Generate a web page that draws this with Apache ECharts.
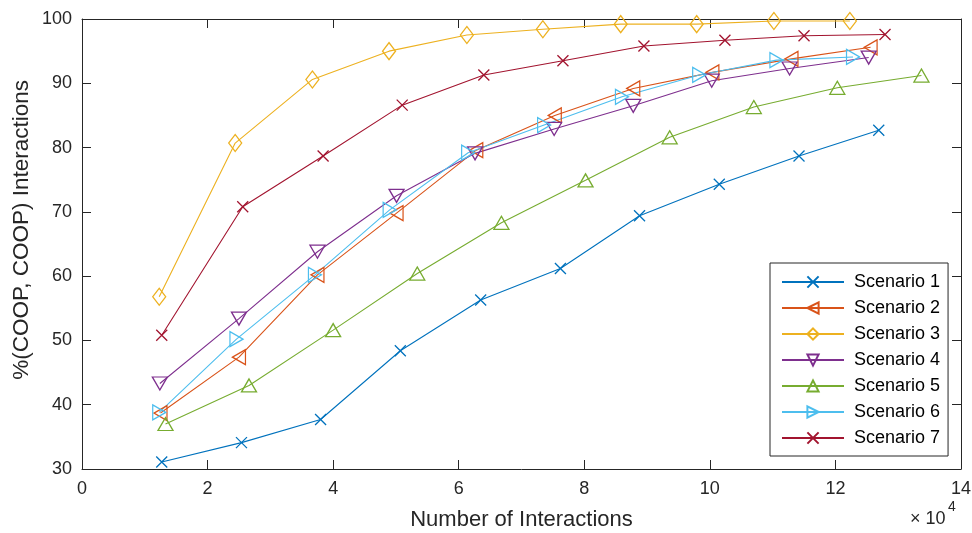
<!DOCTYPE html>
<html>
<head>
<meta charset="utf-8">
<script src="https://cdn.jsdelivr.net/npm/echarts@6/dist/echarts.min.js"></script>
<style>
  html, body { margin: 0; padding: 0; background: #ffffff; }
  #chart { width: 972px; height: 533px; }
</style>
</head>
<body>
<div id="chart"></div>
<script>
// Number of interactions (raw counts) and share of (COOP, COOP) interactions in %
const seriesNames = ['Scenario 1', 'Scenario 2', 'Scenario 3', 'Scenario 4', 'Scenario 5', 'Scenario 6', 'Scenario 7'];

const x1 = [12700, 25400, 38000, 50700, 63500, 76200, 88800, 101500, 114200, 126900];
const y1 = [31.1, 34.1, 37.7, 48.4, 56.3, 61.2, 69.4, 74.3, 78.7, 82.7];

const x2 = [12500, 25000, 37500, 50100, 62800, 75300, 87800, 100400, 113000, 125600];
const y2 = [38.7, 47.4, 60.2, 69.8, 79.6, 85.0, 89.2, 91.7, 93.8, 95.6];

const x3 = [12300, 24400, 36700, 48900, 61300, 73400, 85800, 97900, 110200, 122300];
const y3 = [56.8, 80.7, 90.6, 95.0, 97.5, 98.4, 99.2, 99.2, 99.7, 99.7];

const x4 = [12400, 25000, 37500, 50100, 62600, 75200, 87800, 100300, 112700, 125300];
const y4 = [43.3, 53.4, 63.8, 72.5, 79.1, 82.9, 86.5, 90.4, 92.3, 94.0];

const x5 = [13300, 26600, 40000, 53400, 66800, 80200, 93600, 107000, 120300, 133700];
const y5 = [37.0, 43.0, 51.6, 60.4, 68.3, 74.9, 81.6, 86.3, 89.3, 91.2];

const x6 = [12300, 24600, 37100, 49000, 61500, 73600, 86000, 98300, 110600, 122800];
const y6 = [38.8, 50.2, 60.2, 70.3, 79.2, 83.5, 87.9, 91.3, 93.6, 94.1];

const x7 = [12700, 25600, 38400, 51000, 64000, 76600, 89500, 102400, 115000, 127900];
const y7 = [50.8, 70.8, 78.7, 86.6, 91.3, 93.5, 95.8, 96.7, 97.4, 97.6];

const xTicks = [0, 2, 4, 6, 8, 10, 12, 14];   // in units of 10^4
const yTicks = [30, 40, 50, 60, 70, 80, 90, 100];

const colors = ['#0072BD', '#D95319', '#EDB120', '#7E2F8E', '#77AC30', '#4DBEEE', '#A2142F'];
const axisColor = '#262626';
const fontFamily = 'Liberation Sans, Arial, sans-serif';

// open marker outlines
const CROSS = 'path://M0,0L10,10M10,0L0,10';
const TRI_LEFT = 'path://M0,6L12,0L12,12Z';
const TRI_RIGHT = 'path://M12,6L0,0L0,12Z';
const TRI_DOWN = 'path://M0,0L12,0L6,11Z';
const TRI_UP = 'path://M6,0L12,11L0,11Z';
const DIAMOND = 'path://M6,0L12,8L6,16L0,8Z';

const markers = [
  { symbol: CROSS, size: [11, 11] },
  { symbol: TRI_LEFT, size: [13, 15] },
  { symbol: DIAMOND, size: [13, 17] },
  { symbol: TRI_DOWN, size: [15, 13] },
  { symbol: TRI_UP, size: [15, 13] },
  { symbol: TRI_RIGHT, size: [13, 15] },
  { symbol: CROSS, size: [11, 11] }
];

const xs = [x1, x2, x3, x4, x5, x6, x7];
const ys = [y1, y2, y3, y4, y5, y6, y7];

const series = seriesNames.map((name, i) => ({
  name: name,
  type: 'line',
  xAxisIndex: 0,
  yAxisIndex: 0,
  data: xs[i].map((v, k) => [v, ys[i][k]]),
  symbol: markers[i].symbol,
  symbolSize: markers[i].size,
  symbolKeepAspect: false,
  showAllSymbol: true,
  color: colors[i],
  lineStyle: { color: colors[i], width: 1.1 },
  itemStyle: { color: 'rgba(0,0,0,0)', borderColor: colors[i], borderWidth: 1.3 },
  emphasis: { disabled: true },
  animation: false
}));

const tickSet = { show: true, inside: true, length: 9, lineStyle: { color: axisColor, width: 1 } };
const lineSet = { show: true, onZero: false, lineStyle: { color: axisColor, width: 1 } };

const chart = echarts.init(document.getElementById('chart'), null, { renderer: 'canvas' });
chart.setOption({
  backgroundColor: '#ffffff',
  animation: false,
  grid: { left: 82, right: 11, top: 19, bottom: 64, containLabel: false, outerBoundsMode: 'none' },
  xAxis: [
    {
      type: 'value', position: 'bottom', min: 0, max: 140000, interval: 20000,
      axisLine: lineSet, axisTick: tickSet, splitLine: { show: false },
      axisLabel: {
        color: axisColor, fontSize: 18, fontFamily: fontFamily, margin: 11,
        formatter: v => String(xTicks[Math.round(v / 20000)])
      },
      name: 'Number of Interactions', nameLocation: 'middle', nameGap: 40,
      nameTextStyle: { color: axisColor, fontSize: 22, fontFamily: fontFamily }
    },
    {
      type: 'value', position: 'top', min: 0, max: 140000, interval: 20000,
      axisLine: lineSet, axisTick: tickSet, splitLine: { show: false }, axisLabel: { show: false }
    }
  ],
  yAxis: [
    {
      type: 'value', position: 'left', min: 30, max: 100, interval: 10,
      axisLine: lineSet, axisTick: tickSet, splitLine: { show: false },
      axisLabel: {
        color: axisColor, fontSize: 18, fontFamily: fontFamily, margin: 10,
        formatter: v => String(yTicks[Math.round((v - 30) / 10)])
      }
    },
    {
      type: 'value', position: 'right', min: 30, max: 100, interval: 10,
      axisLine: lineSet, axisTick: tickSet, splitLine: { show: false }, axisLabel: { show: false }
    }
  ],
  legend: {
    orient: 'vertical',
    left: 770, top: 263,
    width: 181,
    padding: [10, 8, 9, 11],
    itemWidth: 62, itemHeight: 14, itemGap: 8,
    backgroundColor: '#ffffff',
    borderColor: axisColor, borderWidth: 1, borderRadius: 0,
    textStyle: { color: '#000000', fontSize: 18, fontFamily: fontFamily, padding: [0, 0, 0, 5] },
    data: seriesNames,
    selectedMode: false
  },
  graphic: [
    {
      type: 'text', left: 10, top: 80,
      rotation: Math.PI / 2,
      style: {
        text: '%(COOP, COOP) Interactions',
        fill: axisColor, fontSize: 22.5, fontFamily: fontFamily
      }
    },
    {
      type: 'text', left: 910, top: 510,
      style: { text: '× 10', fill: axisColor, fontSize: 18, fontFamily: fontFamily }
    },
    {
      type: 'text', left: 948, top: 500,
      style: { text: '4', fill: axisColor, fontSize: 14, fontFamily: fontFamily }
    }
  ],
  series: series
});
</script>
</body>
</html>
